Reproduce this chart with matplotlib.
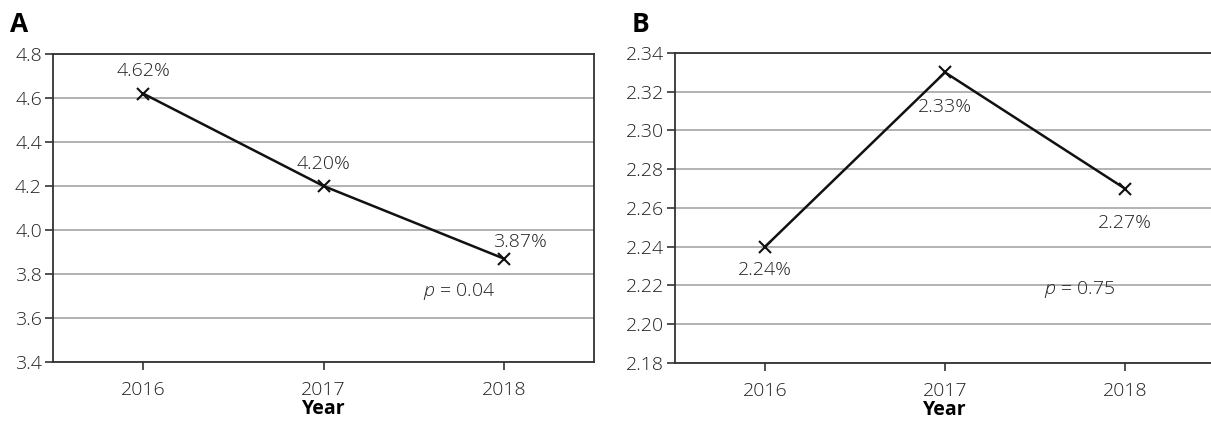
import matplotlib.pyplot as plt
import numpy as np

plt.rcParams['font.family'] = ['Open Sans', 'DejaVu Sans']
plt.rcParams['mathtext.fontset'] = 'custom'
plt.rcParams['mathtext.it'] = 'Open Sans:italic:light'
plt.rcParams['mathtext.rm'] = 'Open Sans'

years = ['2016', '2017', '2018']
rate_a = [4.62, 4.20, 3.87]
rate_b = [2.24, 2.33, 2.27]
labels_a = ['4.62%', '4.20%', '3.87%']
labels_b = ['2.24%', '2.33%', '2.27%']
p_a = '0.04'
p_b = '0.75'

W, H = 1211, 421
fig = plt.figure(figsize=(W / 100, H / 100), dpi=100)
FS = 14
TC = '#222222'


def panel(rect, vals, labels, ylim, yticks, fmt, offsets, ptext, pxy, letter):
    ax = fig.add_axes([rect[0] / W, 1 - rect[3] / H, (rect[2] - rect[0]) / W, (rect[3] - rect[1]) / H])
    x = np.arange(len(vals))
    ax.plot(x, vals, color='#111111', lw=1.8, marker='x', ms=8, mew=1.5, zorder=3)
    ax.set_xlim(-0.5, len(vals) - 0.5)
    ax.set_ylim(*ylim)
    ax.set_yticks(yticks)
    ax.set_yticklabels([fmt.format(v) for v in yticks], fontweight='light')
    ax.set_xticks(x)
    ax.set_xticklabels(years, fontweight='light')
    ax.grid(axis='y', color='#a6a6a6', lw=1.2)
    ax.set_axisbelow(True)
    for s in ax.spines.values():
        s.set_color('#333333')
        s.set_linewidth(1.3)
    ax.tick_params(axis='both', direction='out', length=6, width=1.2, color='#333333',
                   labelsize=FS, labelcolor=TC)
    ax.tick_params(axis='y', pad=2)
    ax.tick_params(axis='x', pad=8)
    for xi, v, lab, off in zip(x, vals, labels, offsets):
        ax.annotate(lab, (xi, v), xytext=off, textcoords='offset points',
                    ha='center', va='center', fontsize=FS, color=TC, fontweight='light')
    ax.text(pxy[0], pxy[1], r'$p$' + ' = ' + ptext, transform=ax.transData,
            fontsize=FS, color=TC, ha='center', va='center', fontweight='light')
    ax.set_xlabel('Year', fontsize=FS, fontweight='bold', labelpad=0)
    fig.text((rect[0] - 43) / W, 1 - 25 / H, letter, fontsize=19, fontweight='bold',
             ha='left', va='center')
    return ax


panel((53, 54, 594, 362), rate_a, labels_a, (3.4, 4.8), np.arange(3.4, 4.81, 0.2), '{:.1f}',
      [(0, 16), (0, 16), (12, 12)], p_a, (1.75, 3.72), 'A')
panel((675, 53, 1215, 363), rate_b, labels_b, (2.18, 2.34), np.arange(2.18, 2.341, 0.02), '{:.2f}',
      [(0, -17), (0, -25), (0, -25)], p_b, (1.75, 2.218), 'B')

fig.savefig('out.png', dpi=100)
